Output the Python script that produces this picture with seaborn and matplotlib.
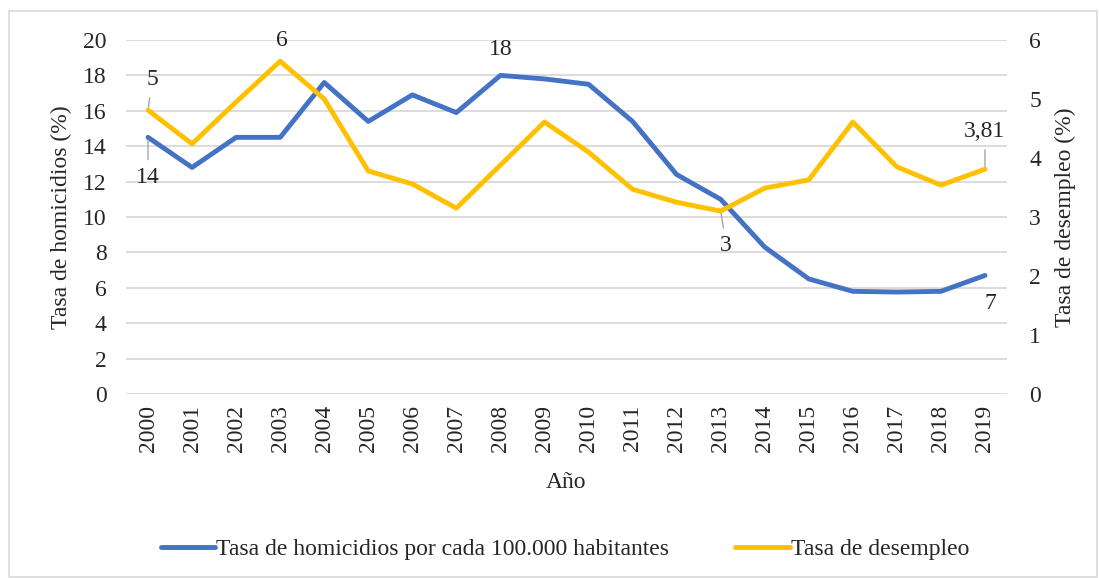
import matplotlib
matplotlib.use("Agg")
import matplotlib.pyplot as plt
from matplotlib.patches import Rectangle
import numpy as np
import pandas as pd
import seaborn as sns

# ─── Data ───────────────────────────────────────────────────────────────────
years = list(range(2000, 2020))
homicidios = [14.5, 12.8, 14.5, 14.5, 17.6, 15.4, 16.9, 15.9, 18.0, 17.8,
              17.5, 15.4, 12.4, 11.0, 8.3, 6.5, 5.8, 5.76, 5.8, 6.7]
desempleo = [4.81, 4.24, 4.95, 5.64, 5.0, 3.78, 3.56, 3.15, 3.88, 4.61,
             4.10, 3.47, 3.25, 3.10, 3.49, 3.63, 4.61, 3.85, 3.54, 3.81]
left_ticks = list(range(0, 21, 2))
right_ticks = list(range(0, 7))

BLUE = "#4472C4"
YELLOW = "#FFC000"
GRID = "#D9D9D9"
FS = 17

sns.set_theme(style="white")
plt.rcParams["font.family"] = ["Liberation Serif", "DejaVu Serif"]

df = pd.DataFrame({"year": years, "homicidios": homicidios, "desempleo": desempleo})

fig = plt.figure(figsize=(10.99, 5.78), dpi=100)
fig.patch.set_facecolor("white")
fig.patches.append(Rectangle((9 / 1099, 1 / 578), 1088 / 1099, 566 / 578,
                             transform=fig.transFigure, fill=False,
                             edgecolor=GRID, lw=1.2))

ax = fig.add_axes([126 / 1099, 1 - 394 / 578, 881 / 1099, 354 / 578])
ax2 = ax.twinx()

sns.lineplot(data=df, x="year", y="homicidios", ax=ax, color=BLUE, lw=3.5,
             label="Tasa de homicidios por cada 100.000 habitantes", legend=False)
sns.lineplot(data=df, x="year", y="desempleo", ax=ax2, color=YELLOW, lw=3.5,
             label="Tasa de desempleo", legend=False)

ax.set_ylim(0, 20)
ax2.set_ylim(0, 6)
ax.set_xlim(years[0] - 0.5, years[-1] + 0.5)
ax.set_yticks(left_ticks)
ax2.set_yticks(right_ticks)
ax.set_xticks(years)
ax.set_xticklabels([str(y) for y in years], rotation=90, fontsize=FS)
ax.tick_params(axis="y", labelsize=FS, length=0, pad=14)
ax.tick_params(axis="x", length=0, pad=8)
ax2.tick_params(axis="y", labelsize=FS, length=0, pad=16)
ax.yaxis.grid(True, color=GRID, lw=1.3)
ax.set_axisbelow(True)
for a in (ax, ax2):
    for sp in a.spines.values():
        sp.set_visible(False)

ax.set_xlabel("Año", fontsize=FS, labelpad=14)
ax.set_ylabel("Tasa de homicidios (%)", fontsize=FS, labelpad=8)
ax2.set_ylabel("Tasa de desempleo (%)", fontsize=FS, labelpad=10)

# ─── Data labels ────────────────────────────────────────────────────────────
lead = dict(arrowstyle="-", color="#A6A6A6", lw=1, shrinkA=3, shrinkB=2)
txt = dict(textcoords="offset points", ha="center", va="center", fontsize=FS)


def label(a, x, y, s, dx, dy, leader=False):
    a.annotate(s, xy=(x, y), xytext=(dx, dy),
               arrowprops=lead if leader else None, **txt)


i = years.index
label(ax2, 2000, desempleo[i(2000)], "5", 3, 22, leader=True)
label(ax, 2000, homicidios[i(2000)], "14", 0, -29, leader=True)
label(ax2, 2003, desempleo[i(2003)], "6", 1, 15)
label(ax, 2008, homicidios[i(2008)], "18", 0, 19)
label(ax2, 2013, desempleo[i(2013)], "3", 4, -25, leader=True)
label(ax2, 2019, desempleo[i(2019)], "3,81", 0, 27, leader=True)
label(ax, 2019, homicidios[i(2019)], "7", 4, -20)

h1, l1 = ax.get_legend_handles_labels()
h2, l2 = ax2.get_legend_handles_labels()
fig.legend(h1 + h2, l1 + l2, loc="center", bbox_to_anchor=(565 / 1099, 1 - 549 / 578),
           ncol=2, frameon=False, fontsize=FS, handlelength=2.3,
           handletextpad=0.05, columnspacing=2.8)

fig.savefig("out.png", dpi=100, facecolor="white")
